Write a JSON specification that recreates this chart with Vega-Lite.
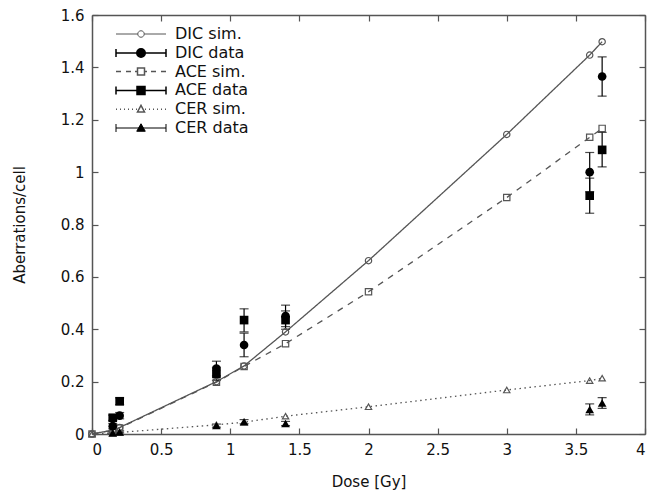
{
  "$schema": "https://vega.github.io/schema/vega-lite/v6.json",
  "width": 553,
  "height": 419,
  "autosize": {"type": "none"},
  "padding": {"left": 92, "top": 15, "right": 22, "bottom": 60},
  "background": "white",
  "config": {
    "view": {"stroke": null},
    "font": "DejaVu Sans",
    "axis": {
      "domainColor": "#555",
      "domainWidth": 1.5,
      "tickColor": "#555",
      "tickWidth": 1.2,
      "tickSize": -6,
      "labelPadding": 14,
      "labelFont": "DejaVu Sans",
      "labelFontSize": 15,
      "labelColor": "#111",
      "titleFont": "DejaVu Sans",
      "titleFontSize": 15,
      "titleFontWeight": "normal",
      "titleColor": "#111",
      "grid": false
    },
    "legend": {
      "title": null,
      "orient": "none",
      "legendX": 0,
      "padding": 0,
      "symbolSize": 100,
      "symbolOffset": 41,
      "labelOffset": 26,
      "symbolOpacity": 1,
      "labelFont": "DejaVu Sans",
      "labelFontSize": 16,
      "labelColor": "#111"
    }
  },
  "data": {
    "values": [
      {"series": "DIC sim.", "kind": "sim", "dose": 0, "value": 0},
      {"series": "DIC sim.", "kind": "sim", "dose": 0.15, "value": 0.015},
      {"series": "DIC sim.", "kind": "sim", "dose": 0.2, "value": 0.025},
      {"series": "DIC sim.", "kind": "sim", "dose": 0.9, "value": 0.2},
      {"series": "DIC sim.", "kind": "sim", "dose": 1.1, "value": 0.26},
      {"series": "DIC sim.", "kind": "sim", "dose": 1.4, "value": 0.39},
      {"series": "DIC sim.", "kind": "sim", "dose": 2, "value": 0.662},
      {"series": "DIC sim.", "kind": "sim", "dose": 3, "value": 1.144},
      {"series": "DIC sim.", "kind": "sim", "dose": 3.6, "value": 1.447},
      {"series": "DIC sim.", "kind": "sim", "dose": 3.69, "value": 1.498},
      {"series": "ACE sim.", "kind": "sim", "dose": 0, "value": 0},
      {"series": "ACE sim.", "kind": "sim", "dose": 0.15, "value": 0.014},
      {"series": "ACE sim.", "kind": "sim", "dose": 0.2, "value": 0.023},
      {"series": "ACE sim.", "kind": "sim", "dose": 0.9, "value": 0.198},
      {"series": "ACE sim.", "kind": "sim", "dose": 1.1, "value": 0.258},
      {"series": "ACE sim.", "kind": "sim", "dose": 1.4, "value": 0.345},
      {"series": "ACE sim.", "kind": "sim", "dose": 2, "value": 0.543},
      {"series": "ACE sim.", "kind": "sim", "dose": 3, "value": 0.903},
      {"series": "ACE sim.", "kind": "sim", "dose": 3.6, "value": 1.133},
      {"series": "ACE sim.", "kind": "sim", "dose": 3.69, "value": 1.167},
      {"series": "CER sim.", "kind": "sim", "dose": 0, "value": 0},
      {"series": "CER sim.", "kind": "sim", "dose": 0.15, "value": 0.004},
      {"series": "CER sim.", "kind": "sim", "dose": 0.2, "value": 0.006},
      {"series": "CER sim.", "kind": "sim", "dose": 0.9, "value": 0.035},
      {"series": "CER sim.", "kind": "sim", "dose": 1.1, "value": 0.045},
      {"series": "CER sim.", "kind": "sim", "dose": 1.4, "value": 0.068},
      {"series": "CER sim.", "kind": "sim", "dose": 2, "value": 0.104},
      {"series": "CER sim.", "kind": "sim", "dose": 3, "value": 0.168},
      {"series": "CER sim.", "kind": "sim", "dose": 3.6, "value": 0.204},
      {"series": "CER sim.", "kind": "sim", "dose": 3.69, "value": 0.213},
      {"series": "DIC data", "kind": "data", "dose": 0.15, "value": 0.03, "lo": 0.02, "hi": 0.04},
      {"series": "DIC data", "kind": "data", "dose": 0.2, "value": 0.07, "lo": 0.058, "hi": 0.082},
      {"series": "DIC data", "kind": "data", "dose": 0.9, "value": 0.25, "lo": 0.222, "hi": 0.278},
      {"series": "DIC data", "kind": "data", "dose": 1.1, "value": 0.34, "lo": 0.295, "hi": 0.385},
      {"series": "DIC data", "kind": "data", "dose": 1.4, "value": 0.45, "lo": 0.41, "hi": 0.492},
      {"series": "DIC data", "kind": "data", "dose": 3.6, "value": 1.0, "lo": 0.925, "hi": 1.075},
      {"series": "DIC data", "kind": "data", "dose": 3.69, "value": 1.365, "lo": 1.29, "hi": 1.44},
      {"series": "ACE data", "kind": "data", "dose": 0.15, "value": 0.062, "lo": 0.052, "hi": 0.072},
      {"series": "ACE data", "kind": "data", "dose": 0.2, "value": 0.125, "lo": 0.112, "hi": 0.138},
      {"series": "ACE data", "kind": "data", "dose": 0.9, "value": 0.23, "lo": 0.205, "hi": 0.255},
      {"series": "ACE data", "kind": "data", "dose": 1.1, "value": 0.435, "lo": 0.39, "hi": 0.478},
      {"series": "ACE data", "kind": "data", "dose": 1.4, "value": 0.435, "lo": 0.4, "hi": 0.47},
      {"series": "ACE data", "kind": "data", "dose": 3.6, "value": 0.91, "lo": 0.843, "hi": 0.977},
      {"series": "ACE data", "kind": "data", "dose": 3.69, "value": 1.085, "lo": 1.02, "hi": 1.152},
      {"series": "CER data", "kind": "data", "dose": 0.15, "value": 0.004, "lo": 0.001, "hi": 0.007},
      {"series": "CER data", "kind": "data", "dose": 0.2, "value": 0.008, "lo": 0.004, "hi": 0.012},
      {"series": "CER data", "kind": "data", "dose": 0.9, "value": 0.032, "lo": 0.026, "hi": 0.038},
      {"series": "CER data", "kind": "data", "dose": 1.1, "value": 0.047, "lo": 0.039, "hi": 0.055},
      {"series": "CER data", "kind": "data", "dose": 1.4, "value": 0.04, "lo": 0.032, "hi": 0.048},
      {"series": "CER data", "kind": "data", "dose": 3.6, "value": 0.094, "lo": 0.073, "hi": 0.115},
      {"series": "CER data", "kind": "data", "dose": 3.69, "value": 0.118, "lo": 0.098, "hi": 0.139}
    ]
  },
  "resolve": {"axis": {"x": "independent", "y": "independent"}, "scale": {"shape": "independent"}},
  "layer": [
    {
      "transform": [{"filter": "datum.kind === 'sim'"}],
      "mark": {"type": "line", "color": "#555", "strokeWidth": 1.3, "clip": true},
      "encoding": {
        "x": {"field": "dose", "type": "quantitative", "scale": {"domain": [0, 4], "nice": false},
              "axis": {"orient": "bottom", "title": "Dose [Gy]", "values": [0, 0.5, 1, 1.5, 2, 2.5, 3, 3.5, 4], "format": "~g", "titlePadding": 17}},
        "y": {"field": "value", "type": "quantitative", "scale": {"domain": [0, 1.6], "nice": false},
              "axis": {"orient": "left", "title": "Aberrations/cell", "values": [0, 0.2, 0.4, 0.6, 0.8, 1, 1.2, 1.4, 1.6], "format": "~g", "titlePadding": 33}},
        "strokeDash": {"field": "series", "type": "nominal", "legend": null,
              "scale": {"domain": ["DIC sim.", "ACE sim.", "CER sim."], "range": [[1, 0], [6, 6], [1.5, 3.5]]}},
        "detail": {"field": "series"}
      }
    },
    {
      "transform": [{"filter": "datum.kind === 'data'"}],
      "mark": {"type": "errorbar", "ticks": true, "size": 9, "thickness": 1.2, "color": "black"},
      "encoding": {
        "x": {"field": "dose", "type": "quantitative", "axis": null},
        "y": {"field": "lo", "type": "quantitative", "axis": null},
        "y2": {"field": "hi"}
      }
    },
    {
      "transform": [{"filter": "datum.kind === 'sim'"}],
      "mark": {"type": "point", "filled": false, "color": "#555", "strokeWidth": 1.2, "size": 40, "opacity": 1},
      "encoding": {
        "x": {"field": "dose", "type": "quantitative",
              "axis": {"orient": "top", "title": null, "labels": false, "values": [0, 0.5, 1, 1.5, 2, 2.5, 3, 3.5, 4]}},
        "y": {"field": "value", "type": "quantitative",
              "axis": {"orient": "right", "title": null, "labels": false, "values": [0, 0.2, 0.4, 0.6, 0.8, 1, 1.2, 1.4, 1.6]}},
        "shape": {"field": "series", "type": "nominal", "legend": null,
          "scale": {"domain": ["DIC sim.", "ACE sim.", "CER sim."], "range": ["circle", "square", "triangle-up"]}}
      }
    },
    {
      "transform": [{"filter": "datum.kind === 'data'"}],
      "mark": {"type": "point", "filled": true, "color": "black", "size": 75, "opacity": 1},
      "encoding": {
        "x": {"field": "dose", "type": "quantitative", "axis": null},
        "y": {"field": "value", "type": "quantitative", "axis": null},
        "shape": {"field": "series", "type": "nominal", "legend": null,
          "scale": {"domain": ["DIC data", "ACE data", "CER data"], "range": ["circle", "square", "triangle-up"]}}
      }
    },
    {
      "transform": [{"filter": "false"}],
      "mark": {"type": "point", "filled": false, "color": "#555", "strokeWidth": 1},
      "encoding": {
        "x": {"field": "dose", "type": "quantitative", "axis": null},
        "y": {"field": "value", "type": "quantitative", "axis": null},
        "opacity": {"field": "series", "type": "nominal",
          "scale": {"domain": ["DIC sim."], "range": [1]},
          "legend": {"legendY": 11, "symbolType": "M-5,0H-0.65M0.65,0H5M-0.65,0A0.65,0.65,0,1,1,0.65,0A0.65,0.65,0,1,1,-0.65,0Z", "symbolStrokeColor": "#555", "symbolFillColor": "white", "symbolStrokeWidth": 1}}
      }
    },
    {
      "transform": [{"filter": "false"}],
      "mark": {"type": "point", "filled": true, "color": "black", "stroke": "black", "strokeWidth": 1},
      "encoding": {
        "x": {"field": "dose", "type": "quantitative", "axis": null},
        "y": {"field": "value", "type": "quantitative", "axis": null},
        "shape": {"field": "series", "type": "nominal",
          "scale": {"domain": ["DIC data"], "range": ["M-5,-0.8V0.8M5,-0.8V0.8M-5,0H5M-0.85,0A0.85,0.85,0,1,1,0.85,0A0.85,0.85,0,1,1,-0.85,0Z"]},
          "legend": {"legendY": 30}}
      }
    },
    {
      "transform": [{"filter": "false"}],
      "mark": {"type": "point", "filled": false, "color": "#555", "strokeWidth": 1},
      "encoding": {
        "x": {"field": "dose", "type": "quantitative", "axis": null},
        "y": {"field": "value", "type": "quantitative", "axis": null},
        "shape": {"field": "series", "type": "nominal",
          "scale": {"domain": ["ACE sim."], "range": ["M-5,0H-4M-3,0H-2M-1.2,0H-0.7M0.7,0H1.2M2,0H3M4,0H5M-0.7,-0.7H0.7V0.7H-0.7Z"]},
          "legend": {"legendY": 48.6}}
      }
    },
    {
      "transform": [{"filter": "false"}],
      "mark": {"type": "point", "filled": true, "color": "black", "stroke": "black", "strokeWidth": 1},
      "encoding": {
        "x": {"field": "dose", "type": "quantitative", "axis": null},
        "y": {"field": "value", "type": "quantitative", "axis": null},
        "shape": {"field": "series", "type": "nominal",
          "scale": {"domain": ["ACE data"], "range": ["M-5,-0.8V0.8M5,-0.8V0.8M-5,0H5M-0.8,-0.8H0.8V0.8H-0.8Z"]},
          "legend": {"legendY": 67.4}}
      }
    },
    {
      "transform": [{"filter": "false"}],
      "mark": {"type": "point", "filled": false, "color": "#555", "strokeWidth": 1},
      "encoding": {
        "x": {"field": "dose", "type": "quantitative", "axis": null},
        "y": {"field": "value", "type": "quantitative", "axis": null},
        "shape": {"field": "series", "type": "nominal",
          "scale": {"domain": ["CER sim."], "range": ["M-5,0H-4.8M-4.2,0H-4M-3.4,0H-3.2M-2.6,0H-2.4M-1.8,0H-1.6M-1,0H-0.8M0.8,0H1M1.6,0H1.8M2.4,0H2.6M3.2,0H3.4M4,0H4.2M4.8,0H5M0,-0.75L0.7,0.55H-0.7Z"]},
          "legend": {"legendY": 86.2}}
      }
    },
    {
      "transform": [{"filter": "false"}],
      "mark": {"type": "point", "filled": true, "stroke": "black", "strokeWidth": 1},
      "encoding": {
        "x": {"field": "dose", "type": "quantitative", "axis": null},
        "y": {"field": "value", "type": "quantitative", "axis": null},
        "fill": {"field": "series", "type": "nominal",
          "scale": {"domain": ["CER data"], "range": ["black"]},
          "legend": {"legendY": 105, "symbolType": "M-5,-0.8V0.8M5,-0.8V0.8M-5,0H5M0,-0.85L0.85,0.65H-0.85Z", "symbolStrokeColor": "black", "symbolStrokeWidth": 1}}
      }
    }
  ]
}
